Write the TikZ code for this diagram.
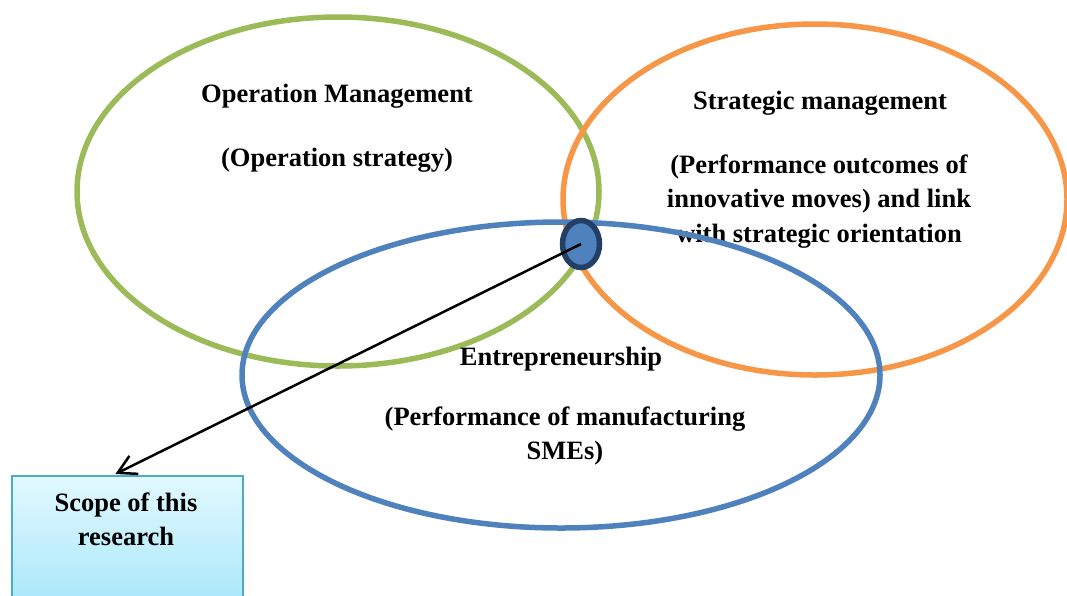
\documentclass[tikz,border=0pt]{standalone}
\usepackage{fontspec}
\setmainfont{Liberation Serif}
\usetikzlibrary{shapes.geometric,calc,arrows.meta}
\definecolor{opgreen}{HTML}{9BBB59}
\definecolor{stratorange}{HTML}{F79646}
\definecolor{entblue}{HTML}{4F81BD}
\definecolor{coreedge}{HTML}{233F66}
\definecolor{scopeedge}{HTML}{4BACC6}
\definecolor{scopetop}{HTML}{E2F8FE}
\definecolor{scopebottom}{HTML}{A6E7FA}
\begin{document}
\begin{tikzpicture}[x=1pt,y=-1pt,
  ring/.style={shape=ellipse, draw, line width=5.5pt, inner sep=0pt},
  % multi-line captions sit on the baseline of their last line
  caption/.style={font=\bfseries\fontsize{26.5}{34.5}\selectfont, align=center, anchor=base, inner sep=0pt}]
\useasboundingbox (0,0) rectangle (1067,595);
\clip (0,0) rectangle (1067,595);

% operation management
\node[ring, draw=opgreen, minimum width=522, minimum height=349] (opm) at (338,191.5) {};
% strategic management
\node[ring, draw=stratorange, minimum width=504, minimum height=351] (stm) at (815,199.5) {};

\node[caption] (opmtitle) at (337,102) {Operation Management};
\node[caption] (opmsub) at (337,166) {(Operation strategy)};
\node[caption] (stmtitle) at (820,109) {Strategic management};
\node[caption] (stmsub) at (819,242) {(Performance outcomes of\\innovative moves) and link\\with strategic orientation};

% entrepreneurship
\node[ring, draw=entblue, minimum width=638, minimum height=306] (ent) at (561,375) {};
\node[caption] (enttitle) at (561,365) {Entrepreneurship};
\node[caption] (entsub) at (565,459.5) {(Performance of manufacturing\\SMEs)};

% common core of the three fields
\node[shape=ellipse, draw=coreedge, fill=entblue, line width=5.5pt, inner sep=0pt,
      minimum width=37, minimum height=47] (core) at (581,244) {};

% scope box
\node[draw=scopeedge, line width=1.8pt, top color=scopetop, bottom color=scopebottom,
      minimum width=231, minimum height=135, anchor=north west, inner sep=0pt] (scope) at (11,475) {};
\node[caption] (scopetxt) at (126,545.5) {Scope of this\\research};

\draw[line width=2.5pt, -{Straight Barb[length=18pt,width=20pt]}]
  (core.center) -- ($(scope.north)+(-12,-1)$);
\end{tikzpicture}
\end{document}
